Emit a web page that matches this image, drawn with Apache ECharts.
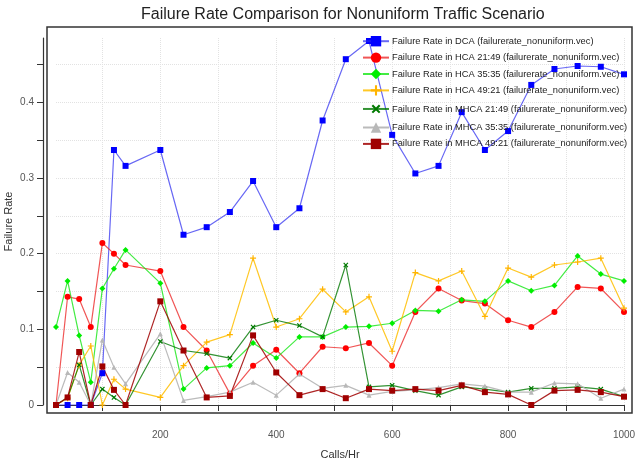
<!DOCTYPE html>
<html>
<head>
<meta charset="utf-8">
<script src="https://cdn.jsdelivr.net/npm/echarts@6/dist/echarts.min.js"></script>
<style>
  html, body { margin: 0; padding: 0; background: #fff; }
  #chart { width: 637px; height: 466px; }
</style>
</head>
<body>
<div id="chart"></div>
<script>
// calls per hour
const callsPerHr = [20, 40, 60, 80, 100, 120, 140, 200, 240, 280, 320, 360, 400, 440,
    480, 520, 560, 600, 640, 680, 720, 760, 800, 840, 880, 920, 960, 1000];

const dca = [0, 0, 0, 0, 0.042, 0.337, 0.316, 0.337, 0.225, 0.235, 0.255, 0.296, 0.235, 0.260,
    0.376, 0.457, 0.481, 0.357, 0.306, 0.316, 0.387, 0.337, 0.362, 0.423, 0.444, 0.448, 0.447, 0.437];
const hca2149 = [0, 0.143, 0.140, 0.103, 0.214, 0.200, 0.185, 0.177, 0.103, 0.072, 0.015, 0.052, 0.073, 0.042,
    0.077, 0.075, 0.082, 0.052, 0.123, 0.154, 0.138, 0.134, 0.112, 0.103, 0.123, 0.156, 0.154, 0.123];
const hca3535 = [0.103, 0.164, 0.092, 0.030, 0.154, 0.180, 0.205, 0.161, 0.021, 0.049, 0.052, 0.082, 0.062, 0.090,
    0.090, 0.103, 0.104, 0.108, 0.125, 0.124, 0.139, 0.137, 0.164, 0.151, 0.158, 0.197, 0.173, 0.164];
const hca4921 = [0, 0.009, 0.053, 0.078, 0, 0.034, 0.021, 0.010, 0.052, 0.083, 0.093, 0.194, 0.103, 0.114,
    0.153, 0.123, 0.143, 0.071, 0.175, 0.164, 0.177, 0.117, 0.181, 0.169, 0.185, 0.189, 0.194, 0.128];
const mhca2149 = [0, 0.010, 0.053, 0, 0.021, 0.010, 0, 0.084, 0.072, 0.068, 0.062, 0.103, 0.112, 0.105,
    0.090, 0.185, 0.024, 0.026, 0.019, 0.013, 0.024, 0.021, 0.017, 0.022, 0.022, 0.024, 0.021, 0.011];
const mhca3535 = [0, 0.043, 0.030, 0, 0.086, 0.050, 0.028, 0.094, 0.006, 0.011, 0.017, 0.030, 0.013, 0.041,
    0.022, 0.026, 0.013, 0.018, 0.020, 0.023, 0.028, 0.025, 0.017, 0.017, 0.029, 0.028, 0.009, 0.021];
const mhca4921 = [0, 0.010, 0.070, 0, 0.051, 0.020, 0, 0.137, 0.072, 0.010, 0.012, 0.092, 0.043, 0.013,
    0.021, 0.009, 0.021, 0.019, 0.021, 0.019, 0.026, 0.017, 0.014, 0, 0.019, 0.020, 0.017, 0.011];

// axis ticks / labels
const xTicks = [100, 200, 300, 400, 500, 600, 700, 800, 900, 1000];
const xLabels = [200, 400, 600, 800, 1000];
const yTicks = [0, 0.05, 0.1, 0.15, 0.2, 0.25, 0.3, 0.35, 0.4, 0.45];
const yLabels = [0, 0.1, 0.2, 0.3, 0.4];

const seriesNames = [
    'Failure Rate in DCA (failurerate_nonuniform.vec)',
    'Failure Rate in HCA 21:49 (failurerate_nonuniform.vec)',
    'Failure Rate in HCA 35:35 (failurerate_nonuniform.vec)',
    'Failure Rate in HCA 49:21 (failurerate_nonuniform.vec)',
    'Failure Rate in MHCA 21:49 (failurerate_nonuniform.vec)',
    'Failure Rate in MHCA 35:35 (failurerate_nonuniform.vec)',
    'Failure Rate in MHCA 49:21 (failurerate_nonuniform.vec)'
];
const seriesData = [dca, hca2149, hca3535, hca4921, mhca2149, mhca3535, mhca4921];

const plusPath = 'path://M4,0H6V4H10V6H6V10H4V6H0V4H4Z';
const styles = [
    { color: '#0000ff', line: 'rgba(40,40,240,0.7)', symbol: 'rect', size: 6, rotate: 0 },
    { color: '#ff0000', line: 'rgba(235,30,30,0.75)', symbol: 'circle', size: 6, rotate: 0 },
    { color: '#00ee00', line: 'rgba(20,230,20,0.8)', symbol: 'diamond', size: 6, rotate: 0 },
    { color: '#ffb400', line: 'rgba(255,190,0,0.85)', symbol: plusPath, size: 6, rotate: 0 },
    { color: '#007a00', line: 'rgba(0,120,0,0.8)', symbol: plusPath, size: 6, rotate: 45 },
    { color: '#b8b8b8', line: 'rgba(180,180,180,0.9)', symbol: 'triangle', size: 5, rotate: 0 },
    { color: '#a00000', line: 'rgba(160,0,0,0.85)', symbol: 'rect', size: 6, rotate: 0 }
];

const chart = echarts.init(document.getElementById('chart'));

const series = seriesNames.map(function(name, i) {
    const s = styles[i];
    return {
        name: name,
        type: 'line',
        data: callsPerHr.map((x, j) => [x, seriesData[i][j]]),
        symbol: s.symbol,
        symbolSize: s.size,
        symbolRotate: s.rotate,
        showAllSymbol: true,
        itemStyle: { color: s.color },
        lineStyle: { color: s.line, width: 1.2 },
        emphasis: { disabled: true }
    };
});

const option = {
    animation: false,
    textStyle: { fontFamily: 'Liberation Sans, Arial, sans-serif' },
    title: {
        text: 'Failure Rate Comparison for Nonuniform Traffic Scenario',
        left: 136,
        top: 2,
        textStyle: { fontSize: 16, fontWeight: 'normal', color: '#222' }
    },
    legend: {
        orient: 'vertical',
        left: 362,
        top: 36,
        padding: 0,
        itemWidth: 26,
        itemHeight: 13,
        itemGap: 6,
        textStyle: { fontSize: 9.3, color: '#222', padding: [0, 0, 0, -2] },
        data: seriesNames
    },
    grid: { left: 56, right: 13, top: 38, bottom: 61, containLabel: false, outerBoundsMode: 'none' },
    xAxis: {
        type: 'value',
        min: 20,
        max: 1000,
        offset: 13,
        name: 'Calls/Hr',
        nameLocation: 'middle',
        nameGap: 31,
        nameTextStyle: { fontSize: 11, color: '#333' },
        axisLine: { show: true, lineStyle: { color: '#333', width: 1.2 } },
        axisTick: { show: true, length: 6, customValues: xTicks, lineStyle: { color: '#333' } },
        axisLabel: { customValues: xLabels, fontSize: 10, color: '#555', margin: 12, formatter: v => String(v) },
        splitLine: { show: true, lineStyle: { color: '#e2e2e2', type: 'dotted' } }
    },
    yAxis: {
        type: 'value',
        min: 0,
        max: 0.485,
        offset: 13,
        name: 'Failure Rate',
        nameLocation: 'middle',
        nameGap: 29,
        nameMoveOverlap: false,
        nameTextStyle: { fontSize: 11, color: '#333' },
        axisLine: { show: true, lineStyle: { color: '#333', width: 1.2 } },
        axisTick: { show: true, length: 6, customValues: yTicks, lineStyle: { color: '#333' } },
        axisLabel: { customValues: yLabels, fontSize: 10, color: '#555', margin: 9, formatter: v => String(v) },
        splitLine: { show: true, lineStyle: { color: '#e2e2e2', type: 'dotted' } }
    },
    graphic: [{
        type: 'rect',
        shape: { x: 47, y: 27, width: 585, height: 386 },
        style: { fill: 'none', stroke: '#333', lineWidth: 1.5 },
        silent: true,
        z: 0
    }],
    series: series
};

chart.setOption(option);
</script>
</body>
</html>
